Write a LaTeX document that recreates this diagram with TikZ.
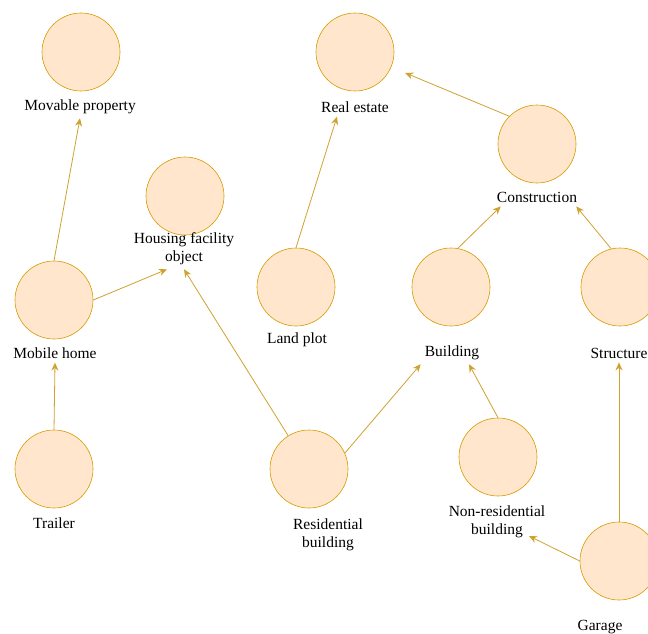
\documentclass[tikz,border=0pt]{standalone}
\usepackage{fontspec}
\setmainfont{Liberation Serif}
\usetikzlibrary{arrows.meta}
\definecolor{entfill}{HTML}{FFE6CC}
\definecolor{entline}{HTML}{D79B00}
\definecolor{isaline}{HTML}{CFA22E}

\begin{document}
\begin{tikzpicture}[x=1pt,y=-1pt,
    ent/.style={circle,draw=entline,fill=entfill,line width=0.6pt,minimum size=78pt,inner sep=0pt},
    lbl/.style={font=\fontsize{15.5}{18}\selectfont,align=center,inner sep=4pt},
    isa/.style={draw=isaline,line width=0.8pt,-{Stealth[length=8pt,width=7pt]}}]

          \useasboundingbox (0,0) rectangle (648,634);

          \foreach \n/\x/\y in {mov/81/52, re/355/52, con/537/144, hfo/185/196,
              mob/54/300, land/296/287, bld/451/287, str/620/287,
              trl/54/469, res/309/469, nres/498/457, gar/619/561}{
            \node[ent] (\n) at (\x,\y) {};
          }

          \foreach \n/\x/\y/\t in {mov/80/107/Movable property, re/355/107/Real estate,
              con/537/197/Construction, hfo/184/249/Housing facility\\object,
              mob/55/353/Mobile home, land/297/340/Land plot, bld/452/353/Building,
              str/619/353/Structure, trl/54/523/Trailer, res/328/535/Residential\\building,
              nres/497/522/Non-residential\\building, gar/600/627/Garage}{
            \node[lbl] (\n-t) at (\x,\y) {\t};
          }

          \draw[isa] (mob.north) -- (mov-t.south);
          \draw[isa] (mob.east) -- ([xshift=-17pt]hfo-t.south);
          \draw[isa] (res) -- (hfo-t.south);
          \draw[isa] (land.north) -- ([xshift=-18pt]re-t.south);
          \draw[isa,shorten >=15pt] (con.135) -- (re);
          \draw[isa] (bld.80) -- ([xshift=8pt]con-t.south west);
          \draw[isa] (str.103) -- ([xshift=-5pt]con-t.south east);
          \draw[isa] (res.24) -- (bld-t.south west);
          \draw[isa] (nres.north) -- ([xshift=17pt]bld-t.south);
          \draw[isa] (gar.west) -- ([shift={(32pt,-14pt)}]nres-t.center);
          \draw[isa] (gar.north) -- (str-t.south);
          \draw[isa] (trl.north) -- (mob-t.south);
        \end{tikzpicture}
\end{document}
